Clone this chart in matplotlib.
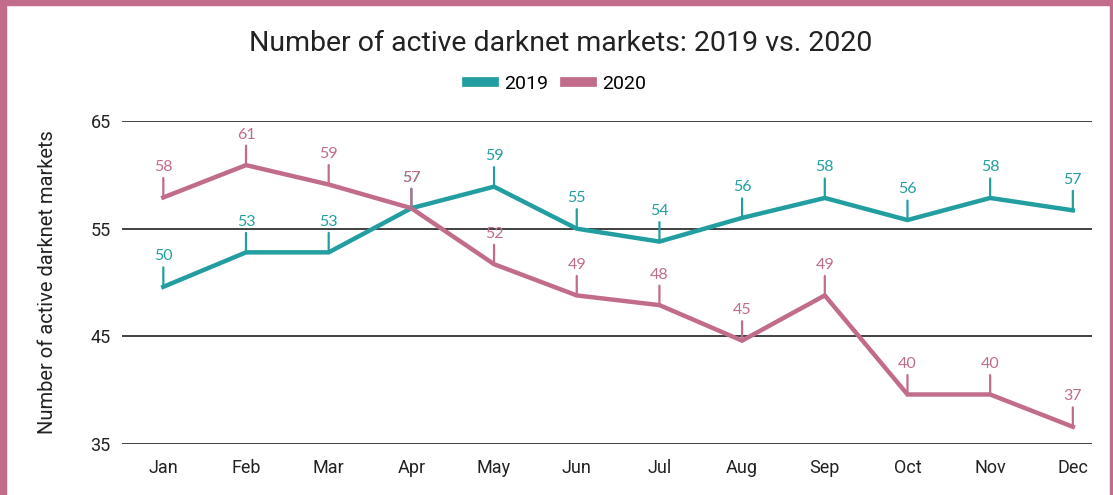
import matplotlib.pyplot as plt
from matplotlib.patches import Rectangle
from matplotlib.lines import Line2D

months = ["Jan", "Feb", "Mar", "Apr", "May", "Jun",
          "Jul", "Aug", "Sep", "Oct", "Nov", "Dec"]
markets_2019 = [49.6, 52.8, 52.8, 56.9, 58.9, 55.0, 53.8, 56.0, 57.85, 55.8, 57.85, 56.7]
markets_2020 = [57.9, 60.9, 59.1, 56.9, 51.7, 48.8, 47.9, 44.6, 48.8, 39.6, 39.6, 36.6]
y_ticks = [35, 45, 55, 65]

teal = "#239ea0"
pink = "#c26c8c"

fig = plt.figure(figsize=(11.13, 4.95), dpi=100)
ax = fig.add_axes([0.1096, 0.103, 0.8714, 0.6526])

x = range(len(months))
ax.plot(x, markets_2019, color=teal, lw=3.2, solid_joinstyle="miter", zorder=3)
ax.plot(x, markets_2020, color=pink, lw=3.2, solid_joinstyle="miter", zorder=4)

# value labels sitting on short leader lines above each point
for values, color in [(markets_2019, teal), (markets_2020, pink)]:
    for i, v in enumerate(values):
        ax.annotate("", xy=(i, v), xytext=(0, 14), textcoords="offset points",
                    arrowprops=dict(arrowstyle="-", color=color, lw=1.6,
                                    shrinkA=0, shrinkB=0), zorder=5)
        ax.annotate(f"{v:.0f}", xy=(i, v), xytext=(0, 22), textcoords="offset points",
                    ha="center", va="center", color=color, fontsize=11.5,
                    family=["Lato", "DejaVu Sans"], zorder=5)

ax.set_xlim(-0.5, 11.23)
ax.set_ylim(35, 65)
ax.set_yticks(y_ticks)
ax.set_xticks(list(x))
ax.set_xticklabels(months)
ax.tick_params(length=0, labelsize=13, colors="#222222")
ax.tick_params(axis="x", pad=11)
ax.tick_params(axis="y", pad=8)
for lbl in ax.get_xticklabels() + ax.get_yticklabels():
    lbl.set_family("Roboto")
ax.grid(axis="y", color="#333333", lw=1.3)
ax.set_axisbelow(True)
for s in ax.spines.values():
    s.set_visible(False)
ax.set_ylabel("Number of active darknet markets", fontsize=14.5, family="Roboto",
              color="#222222", labelpad=24)

fig.text(0.504, 0.912, "Number of active darknet markets: 2019 vs. 2020",
         ha="center", va="center", fontsize=20.5, family="Roboto", color="#222222")

handles = [Line2D([], [], color=teal, lw=7), Line2D([], [], color=pink, lw=7)]
fig.legend(handles, ["2019", "2020"], loc="center", bbox_to_anchor=(0.5, 0.83),
           ncol=2, frameon=False, handlelength=1.4, handletextpad=0.5,
           columnspacing=0.9, prop={"family": "Roboto", "size": 14})

# pink frame along the left, top and right edges
border = pink
fig.patches.append(Rectangle((0, 0), 6 / 1113, 1, transform=fig.transFigure,
                             color=border, zorder=10))
fig.patches.append(Rectangle((0, 1 - 5 / 495), 1, 5 / 495, transform=fig.transFigure,
                             color=border, zorder=10))
fig.patches.append(Rectangle((1 - 3 / 1113, 0), 3 / 1113, 1, transform=fig.transFigure,
                             color=border, zorder=10))

fig.savefig("out.png", dpi=100)
